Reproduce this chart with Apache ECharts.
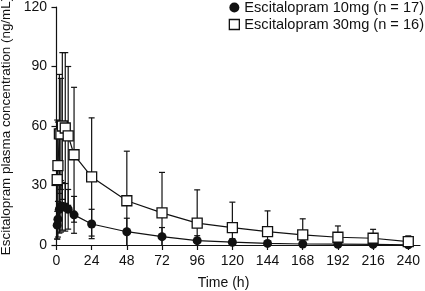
<!DOCTYPE html>
<html>
<head>
<meta charset="utf-8">
<script src="https://cdn.jsdelivr.net/npm/echarts@6/dist/echarts.min.js"></script>
<style>
  html, body { margin: 0; padding: 0; background: #fff; }
  #chart { width: 425px; height: 291px; }
</style>
</head>
<body>
<div id="chart"></div>
<script>
// sampling times (h)
var times = [0.5, 1, 2, 3, 4, 6, 8, 12, 24, 48, 72, 96, 120, 144, 168, 192, 216, 240];
// Escitalopram 10mg: mean and SD
var mean10 = [10, 13, 18, 19.5, 19.5, 19, 18, 15.2, 10.6, 6.7, 4.2, 2.2, 1.4, 0.8, 0.5, 0.4, 0.3, 0.1];
var sd10 = [7, 9, 12, 13, 12, 12, 10, 9.3, 7.4, 6.8, 4.6, 2.5, 1.8, 1.2, 0.8, 0.6, 0.5, 0.3];
// Escitalopram 30mg: mean and SD
var mean30 = [33, 40, 56, 56, 60, 59, 55, 45.5, 34.3, 22.3, 16.2, 11, 8.8, 6.7, 5.1, 3.9, 3.4, 1.7];
var sd30 = [30, 22, 30, 28, 37, 38, 35, 34, 29.8, 25, 20.4, 16.8, 12.8, 10.5, 8.1, 5.7, 4.5, 2.9];
var xTicks = [0, 24, 48, 72, 96, 120, 144, 168, 192, 216, 240];

var name10 = 'Escitalopram 10mg (n = 17)';
var name30 = 'Escitalopram 30mg (n = 16)';

function pairs(m) {
    return times.map(function (t, i) { return [t, m[i]]; });
}
function bars(m, s) {
    return times.map(function (t, i) { return [t, m[i], s[i]]; });
}

// error bar: mean +/- sd, lower end cut at the x axis
function renderBar(params, api) {
    var t = api.value(0), m = api.value(1), s = api.value(2);
    var lowVal = Math.max(m - s, 0);
    var hi = api.coord([t, m + s]);
    var lo = api.coord([t, lowVal]);
    var w = 3;
    var style = { stroke: '#111', lineWidth: 1.2 };
    var kids = [
        { type: 'line', shape: { x1: hi[0], y1: hi[1], x2: lo[0], y2: lo[1] }, style: style },
        { type: 'line', shape: { x1: hi[0] - w, y1: hi[1], x2: hi[0] + w, y2: hi[1] }, style: style }
    ];
    if (m - s >= 0) {
        kids.push({ type: 'line', shape: { x1: lo[0] - w, y1: lo[1], x2: lo[0] + w, y2: lo[1] }, style: style });
    }
    return { type: 'group', children: kids };
}

var myChart = echarts.init(document.getElementById('chart'));
var font = 'Liberation Sans, Arial, Helvetica, sans-serif';

myChart.setOption({
    animation: false,
    backgroundColor: '#fff',
    textStyle: { fontFamily: font },
    grid: { left: 55, right: 5, top: 7, bottom: 46, containLabel: false, outerBoundsMode: 'none' },
    legend: {
        orient: 'vertical',
        right: 1,
        top: 0,
        padding: 0,
        itemGap: 2,
        itemWidth: 10,
        itemHeight: 10,
        textStyle: { fontSize: 14.6, color: '#111', fontFamily: font },
        data: [
            { name: name10, icon: 'circle', itemStyle: { color: '#111' } },
            { name: name30, icon: 'rect', itemStyle: { color: '#fff', borderColor: '#111', borderWidth: 1.3 } }
        ]
    },
    xAxis: {
        type: 'value',
        min: -1,
        max: 248,
        name: 'Time (h)',
        nameLocation: 'middle',
        nameGap: 31,
        nameTextStyle: { fontSize: 14, color: '#111', padding: [0, 28, 0, 0] },
        axisLine: { lineStyle: { color: '#111', width: 1.2 } },
        axisTick: { show: true, length: 5, customValues: xTicks, lineStyle: { color: '#111', width: 1.2 } },
        axisLabel: { fontSize: 14, color: '#111', margin: 9, customValues: xTicks },
        splitLine: { show: false }
    },
    yAxis: {
        type: 'value',
        min: 0,
        max: 120,
        interval: 30,
        name: 'Escitalopram plasma concentration (ng/mL)',
        nameLocation: 'middle',
        nameGap: 40,
        nameTextStyle: { fontSize: 13.4, color: '#111' },
        axisLine: { show: true, lineStyle: { color: '#111', width: 1.2 } },
        axisTick: { show: true, length: 5, lineStyle: { color: '#111', width: 1.2 } },
        axisLabel: { fontSize: 14, color: '#111', margin: 8 },
        splitLine: { show: false }
    },
    series: [
        {
            type: 'custom',
            name: 'sd10',
            renderItem: renderBar,
            encode: { x: 0, y: 1 },
            data: bars(mean10, sd10),
            z: 1,
            silent: true
        },
        {
            type: 'custom',
            name: 'sd30',
            renderItem: renderBar,
            encode: { x: 0, y: 1 },
            data: bars(mean30, sd30),
            z: 1,
            silent: true
        },
        {
            name: name10,
            type: 'line',
            data: pairs(mean10),
            symbol: 'circle',
            symbolSize: 9,
            lineStyle: { color: '#111', width: 1.2 },
            itemStyle: { color: '#111' },
            z: 3
        },
        {
            name: name30,
            type: 'line',
            data: pairs(mean30),
            symbol: 'rect',
            symbolSize: 10,
            lineStyle: { color: '#111', width: 1.2 },
            itemStyle: { color: '#fff', borderColor: '#111', borderWidth: 1.3 },
            z: 4
        }
    ]
});
</script>
</body>
</html>
